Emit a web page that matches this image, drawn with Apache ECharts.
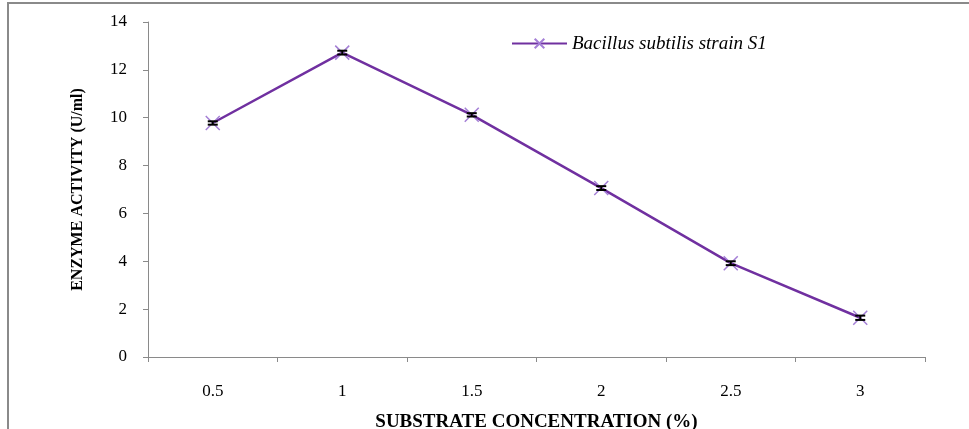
<!DOCTYPE html>
<html>
<head>
<meta charset="utf-8">
<script src="https://cdn.jsdelivr.net/npm/echarts@6/dist/echarts.min.js"></script>
<style>
html,body{margin:0;padding:0;background:#fff;}
#chart{width:969px;height:429px;}
</style>
</head>
<body>
<div id="chart"></div>
<script>
const categories = ['0.5', '1', '1.5', '2', '2.5', '3'];
const activity = [9.78, 12.72, 10.12, 7.06, 3.92, 1.64];
const errors = [0.07, 0.08, 0.07, 0.08, 0.08, 0.09];
const seriesName = 'Bacillus subtilis strain S1';

const chart = echarts.init(document.getElementById('chart'));
const serif = '"Liberation Serif", "DejaVu Serif", serif';
const errData = categories.map((c, i) => [i, activity[i], errors[i]]);

chart.setOption({
  animation: false,
  backgroundColor: '#fff',
  graphic: [{
    type: 'rect',
    shape: { x: 8, y: 3, width: 1000, height: 500 },
    style: { fill: 'none', stroke: '#8a8a8a', lineWidth: 2 },
    silent: true,
    z: -1
  }],
  grid: { left: 148, right: 44, top: 22, bottom: 72, containLabel: false, outerBoundsMode: 'none' },
  legend: {
    left: 506, top: 29,
    itemWidth: 55, itemHeight: 12, itemGap: 6,
    data: [seriesName],
    textStyle: { fontFamily: serif, fontStyle: 'italic', fontSize: 19, color: '#000' }
  },
  xAxis: {
    type: 'category',
    data: categories,
    boundaryGap: true,
    name: 'SUBSTRATE CONCENTRATION (%)',
    nameLocation: 'middle',
    nameGap: 56,
    nameTextStyle: { fontFamily: serif, fontWeight: 'bold', fontSize: 19, color: '#000' },
    axisLine: { lineStyle: { color: '#8a8a8a', width: 1 } },
    axisTick: { show: true, length: 5, alignWithLabel: false, lineStyle: { color: '#8a8a8a' } },
    axisLabel: { fontFamily: serif, fontSize: 17, color: '#000', margin: 26 },
    splitLine: { show: false }
  },
  yAxis: {
    type: 'value',
    min: 0, max: 14, interval: 2,
    name: 'ENZYME ACTIVITY (U/ml)',
    nameLocation: 'middle',
    nameGap: 62,
    nameTextStyle: { fontFamily: serif, fontWeight: 'bold', fontSize: 16, color: '#000' },
    axisLine: { show: true, lineStyle: { color: '#8a8a8a', width: 1 } },
    axisTick: { show: true, length: 5, lineStyle: { color: '#8a8a8a' } },
    axisLabel: { fontFamily: serif, fontSize: 17, color: '#000', margin: 21 },
    splitLine: { show: false }
  },
  series: [
    {
      name: seriesName,
      type: 'line',
      data: activity,
      lineStyle: { color: '#7030a0', width: 2.5 },
      itemStyle: { color: 'rgba(0,0,0,0)', borderColor: '#a47fd6', borderWidth: 1.5 },
      symbol: 'path://M0,0L10,10M10,0L0,10',
      symbolSize: 14,
      showAllSymbol: true,
      z: 2
    },
    {
      type: 'custom',
      name: 'err',
      data: errData,
      z: 3,
      renderItem: function (params, api) {
        const x = api.value(0), v = api.value(1), e = api.value(2);
        const top = api.coord([x, v + e]);
        const bot = api.coord([x, v - e]);
        const hw = 5;
        const st = { stroke: '#000', lineWidth: 2 };
        return {
          type: 'group',
          children: [
            { type: 'line', shape: { x1: top[0], y1: top[1], x2: bot[0], y2: bot[1] }, style: st },
            { type: 'line', shape: { x1: top[0] - hw, y1: top[1], x2: top[0] + hw, y2: top[1] }, style: st },
            { type: 'line', shape: { x1: bot[0] - hw, y1: bot[1], x2: bot[0] + hw, y2: bot[1] }, style: st }
          ]
        };
      }
    }
  ]
});
</script>
</body>
</html>
